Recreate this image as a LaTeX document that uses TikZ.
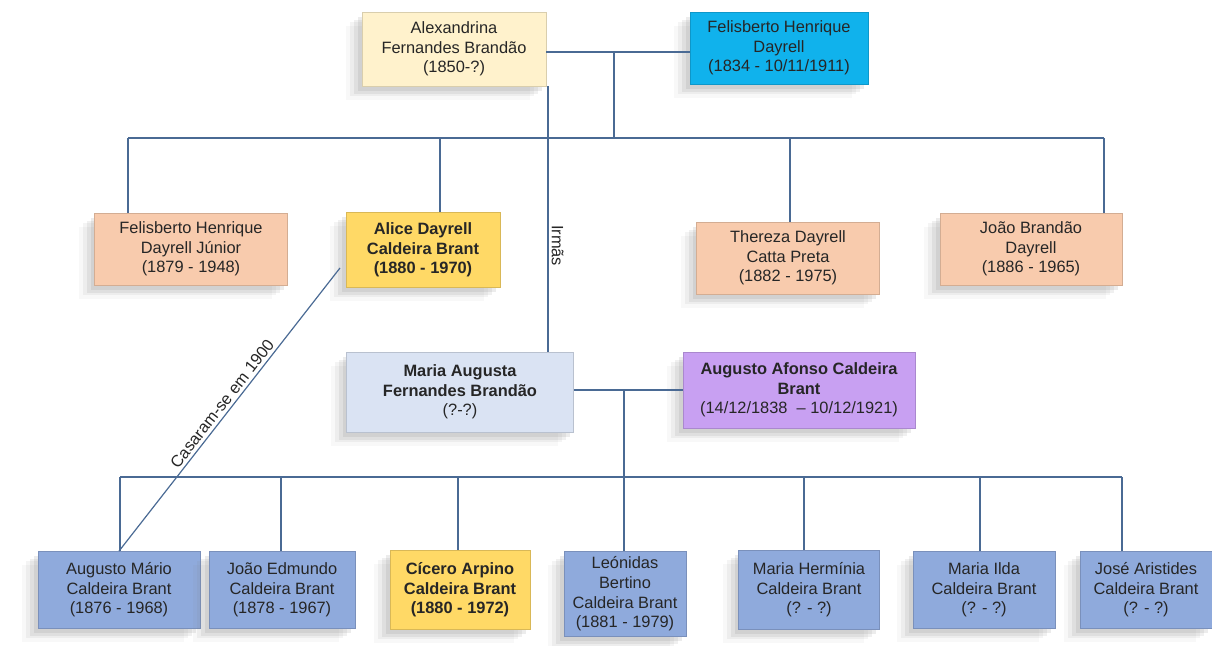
\documentclass[tikz,border=0pt]{standalone}
\usepackage{fontspec}
\setmainfont{Liberation Sans}
\usetikzlibrary{shadows}
\definecolor{linkblue}{HTML}{4A6A94}
\definecolor{cream}{HTML}{FFF2CC}
\definecolor{skyblue}{HTML}{10B2EC}
\definecolor{peach}{HTML}{F8CBAD}
\definecolor{gold}{HTML}{FFD966}
\definecolor{mist}{HTML}{DAE3F3}
\definecolor{lilac}{HTML}{C8A0F2}
\definecolor{childblue}{HTML}{8FAADC}
\newcommand\personfont{\fontsize{8.2}{9.8}\selectfont}

\begin{document}
\begin{tikzpicture}[x=0.5pt, y=-0.5pt,
    person/.style={rectangle, align=center, inner sep=1pt, font=\personfont,
      text=black!85, fill=#1, draw=#1!85!black, line width=0.4pt,
      drop shadow={shadow xshift=-8pt, shadow yshift=-7pt, opacity=0.06},
      drop shadow={shadow xshift=-6pt, shadow yshift=-5pt, opacity=0.09},
      drop shadow={shadow xshift=-4pt, shadow yshift=-4pt, opacity=0.12},
      drop shadow={shadow xshift=-2pt, shadow yshift=-2.5pt, opacity=0.15}},
    heavy/.style={font=\personfont\bfseries},
    link/.style={linkblue, line width=0.6pt}]
    \useasboundingbox (0,0) rectangle (1212,646);

    % --- parents of the two sisters ---
    \node[person=cream, minimum width=92pt, minimum height=37pt] (alex) at (454,49)
      {Alexandrina\\Fernandes Brandão\\(1850-?)};
    \node[person=skyblue, minimum width=89pt, minimum height=36pt] (fhd) at (779,48)
      {Felisberto Henrique\\Dayrell\\(1834 - 10/11/1911)};

    % --- their children ---
    \node[person=peach, minimum width=96.5pt, minimum height=36pt] (fhdj) at (191,249)
      {Felisberto Henrique\\Dayrell Júnior\\(1879 - 1948)};
    \node[person=gold, heavy, minimum width=77pt, minimum height=37.5pt] (alice) at (423,250)
      {Alice Dayrell\\Caldeira Brant\\(1880 - 1970)};
    \node[person=peach, minimum width=91.5pt, minimum height=36pt] (thereza) at (788,258)
      {Thereza Dayrell\\Catta Preta\\(1882 - 1975)};
    \node[person=peach, minimum width=91pt, minimum height=36pt] (joaob) at (1031,249)
      {João Brandão\\Dayrell\\(1886 - 1965)};

    % --- second couple ---
    \node[person=mist, heavy, minimum width=113.5pt, minimum height=40pt] (mariaa) at (460,392)
      {Maria Augusta\\Fernandes Brandão\\{\mdseries (?-?)}};
    \node[person=lilac, heavy, minimum width=116pt, minimum height=38pt] (augaf) at (799,390)
      {Augusto Afonso Caldeira\\Brant\\{\mdseries (14/12/1838 \ – 10/12/1921)}};

    % --- Caldeira Brant children ---
    \node[person=childblue, minimum width=81pt, minimum height=38.5pt] (augm) at (119,590)
      {Augusto Mário\\Caldeira Brant\\(1876 - 1968)};
    \node[person=childblue, minimum width=73pt, minimum height=38.5pt] (joaoe) at (282,590)
      {João Edmundo\\Caldeira Brant\\(1878 - 1967)};
    \node[person=gold, heavy, minimum width=70pt, minimum height=39.5pt] (cicero) at (460,590)
      {Cícero Arpino\\Caldeira Brant\\(1880 - 1972)};
    \node[person=childblue, minimum width=61pt, minimum height=42.5pt] (leonidas) at (625,594)
      {Leónidas\\Bertino\\Caldeira Brant\\(1881 - 1979)};
    \node[person=childblue, minimum width=70.5pt, minimum height=39.5pt] (herminia) at (809,590)
      {Maria Hermínia\\Caldeira Brant\\(? - ?)};
    \node[person=childblue, minimum width=71pt, minimum height=38.5pt] (ilda) at (984,590)
      {Maria Ilda\\Caldeira Brant\\(? - ?)};
    \node[person=childblue, minimum width=66pt, minimum height=38.5pt] (jose) at (1146,590)
      {José Aristides\\Caldeira Brant\\(? - ?)};

    % --- family lines, first generation ---
    \coordinate (wed1) at (614,52);
    \coordinate (bar1) at (614,138);
    \draw[link] (wed1 -| alex.east) -- (wed1 -| fhd.west);
    \draw[link] (wed1) -- (bar1);
    \foreach \dx/\kid in {128/fhdj, 440/alice, 790/thereza, 1104/joaob} {
      \coordinate (d-\kid) at (\dx,138);
      \draw[link] (d-\kid) -- (d-\kid |- \kid.north);
    }
    \draw[link] (d-fhdj) -- (d-joaob);

    % --- family lines, second generation ---
    \coordinate (wed2) at (624,390);
    \coordinate (bar2) at (624,477);
    \draw[link] (wed2 -| mariaa.east) -- (wed2 -| augaf.west);
    \draw[link] (wed2) -- (bar2);
    \foreach \dx/\kid in {120/augm, 281/joaoe, 458/cicero, 624/leonidas,
                          804/herminia, 980/ilda, 1122/jose} {
      \coordinate (d-\kid) at (\dx,477);
      \draw[link] (d-\kid) -- (d-\kid |- \kid.north);
    }
    \draw[link] (d-augm) -- (d-jose);

    % --- sisters and the cousins' wedding ---
    \coordinate (sis) at (548,0);
    \draw[link] (sis |- alex.south) --
      node[pos=0.6, rotate=-90, anchor=south, inner sep=1.5pt, font=\personfont, text=black!85] (irmas) {Irmãs}
      (sis |- mariaa.north);
    \coordinate (wedA) at (340,268);
    \draw[link] (wedA) --
      node[midway, sloped, above, inner sep=1.5pt, font=\personfont, text=black!85] (casaram) {Casaram-se em 1900}
      (augm.north);
\end{tikzpicture}
\end{document}
